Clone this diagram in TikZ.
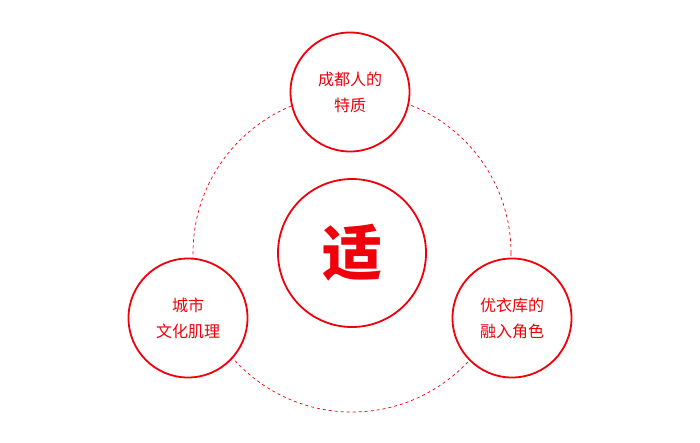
\documentclass[tikz,border=0pt]{standalone}
\usepackage{fontspec}
\newfontfamily\cjk{Noto Sans CJK SC}
\newfontfamily\cjkbold{Noto Sans CJK SC Black}
\definecolor{myred}{RGB}{240,0,10}
\begin{document}
\begin{tikzpicture}[x=1pt,y=-1pt]
\tikzset{
  smallc/.style={circle, draw=myred, line width=1.8pt, fill=white, minimum size=119pt, inner sep=0pt,
    text=myred, font=\cjk\fontsize{16}{26}\selectfont, align=center},
  bigc/.style={circle, draw=myred, line width=1.8pt, fill=white, minimum size=148pt, inner sep=0pt,
    text=myred, font=\cjkbold\fontsize{60}{60}\selectfont},
  ring/.style={circle, draw=myred, line width=0.7pt, dash pattern=on 3pt off 3pt, minimum size=318pt, inner sep=0pt}
}
\useasboundingbox (0,0) rectangle (700,442);
\node[ring] (r) at (352,253) {};
\node[bigc] (c) at (352,253) {适};
\node[smallc] (t) at (350,92) {成都人的\\特质};
\node[smallc] (l) at (188,318) {城市\\文化肌理};
\node[smallc] (rt) at (512,318) {优衣库的\\融入角色};
\end{tikzpicture}
\end{document}
